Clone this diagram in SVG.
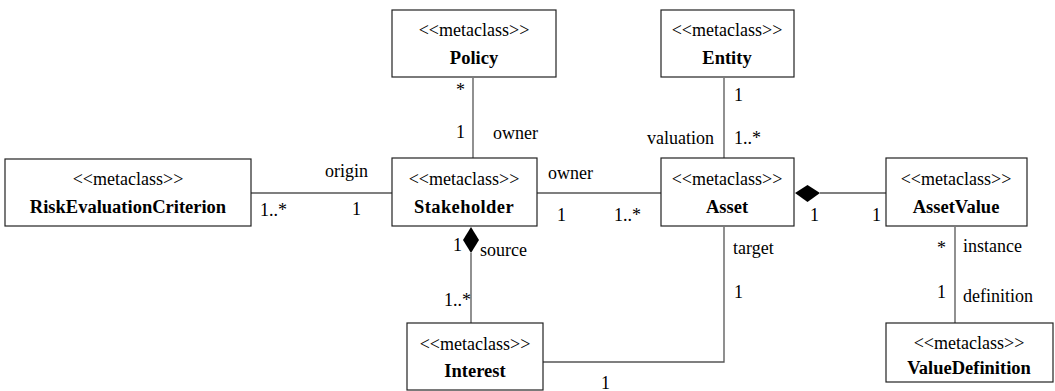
<svg xmlns="http://www.w3.org/2000/svg" width="1055" height="391" viewBox="0 0 1055 391">
<style>
text{font-family:'Liberation Serif','Times New Roman',Times,'DejaVu Serif',serif}
.box{fill:#fff;stroke:#222;stroke-width:1.2}
.st{font-size:18px;fill:#000;text-anchor:middle}
.nm{font-size:18.5px;font-weight:bold;fill:#000;text-anchor:middle}
.lb{font-size:18px;fill:#000}
.ln{fill:none;stroke:#555;stroke-width:1.3}
.dm{fill:#000;stroke:none}
</style>
<rect width="1055" height="391" fill="#fff"/>
<g id="connectors">
<line class="ln" x1="251" y1="193" x2="392" y2="193"/>
<line class="ln" x1="473" y1="78" x2="473" y2="158"/>
<line class="ln" x1="537" y1="193" x2="661" y2="193"/>
<line class="ln" x1="724" y1="78" x2="724" y2="158"/>
<line class="ln" x1="820" y1="193" x2="886" y2="193"/>
<polygon class="dm" points="795,193 807.5,185 820,193 807.5,202"/>
<line class="ln" x1="471" y1="253" x2="471" y2="323"/>
<polygon class="dm" points="471,227 479,240 471,253 463,240"/>
<polyline class="ln" points="724,227 724,362 543,362"/>
<line class="ln" x1="955" y1="227" x2="955" y2="323"/>
<text class="lb" x="325" y="177">origin</text>
<text class="lb" x="260" y="216">1..*</text>
<text class="lb" x="352" y="215">1</text>
<text class="lb" x="456" y="96">*</text>
<text class="lb" x="456" y="138">1</text>
<text class="lb" x="493" y="139">owner</text>
<text class="lb" x="548" y="179">owner</text>
<text class="lb" x="557" y="221">1</text>
<text class="lb" x="614" y="221">1..*</text>
<text class="lb" x="734" y="101">1</text>
<text class="lb" x="647" y="144">valuation</text>
<text class="lb" x="734" y="144">1..*</text>
<text class="lb" x="810" y="221">1</text>
<text class="lb" x="872" y="221">1</text>
<text class="lb" x="453" y="251">1</text>
<text class="lb" x="480" y="256">source</text>
<text class="lb" x="444" y="306">1..*</text>
<text class="lb" x="733" y="254">target</text>
<text class="lb" x="734" y="298">1</text>
<text class="lb" x="601" y="389">1</text>
<text class="lb" x="937" y="254">*</text>
<text class="lb" x="963" y="252">instance</text>
<text class="lb" x="937" y="298">1</text>
<text class="lb" x="963" y="302">definition</text>
</g>
<g id="RiskEvaluationCriterion">
<rect class="box" x="5" y="159" width="246" height="67"/>
<text class="st" x="128" y="185">&lt;&lt;metaclass&gt;&gt;</text>
<text class="nm" x="128" y="213">RiskEvaluationCriterion</text>
</g>
<g id="Policy">
<rect class="box" x="392" y="10" width="164" height="67"/>
<text class="st" x="474" y="36">&lt;&lt;metaclass&gt;&gt;</text>
<text class="nm" x="474" y="64">Policy</text>
</g>
<g id="Entity">
<rect class="box" x="661" y="10" width="133" height="67"/>
<text class="st" x="727" y="36">&lt;&lt;metaclass&gt;&gt;</text>
<text class="nm" x="727" y="64">Entity</text>
</g>
<g id="Stakeholder">
<rect class="box" x="392" y="158" width="145" height="68"/>
<text class="st" x="464" y="185">&lt;&lt;metaclass&gt;&gt;</text>
<text class="nm" x="464" y="213" letter-spacing="0.4">Stakeholder</text>
</g>
<g id="Asset">
<rect class="box" x="661" y="158" width="133" height="68"/>
<text class="st" x="727" y="185">&lt;&lt;metaclass&gt;&gt;</text>
<text class="nm" x="727" y="213">Asset</text>
</g>
<g id="AssetValue">
<rect class="box" x="886" y="158" width="141" height="68"/>
<text class="st" x="956" y="185">&lt;&lt;metaclass&gt;&gt;</text>
<text class="nm" x="956" y="213">AssetValue</text>
</g>
<g id="Interest">
<rect class="box" x="407" y="323" width="136" height="67"/>
<text class="st" x="475" y="350">&lt;&lt;metaclass&gt;&gt;</text>
<text class="nm" x="475" y="377">Interest</text>
</g>
<g id="ValueDefinition">
<rect class="box" x="886" y="323" width="167" height="59"/>
<text class="st" x="969" y="349">&lt;&lt;metaclass&gt;&gt;</text>
<text class="nm" x="969" y="374">ValueDefinition</text>
</g>
</svg>
